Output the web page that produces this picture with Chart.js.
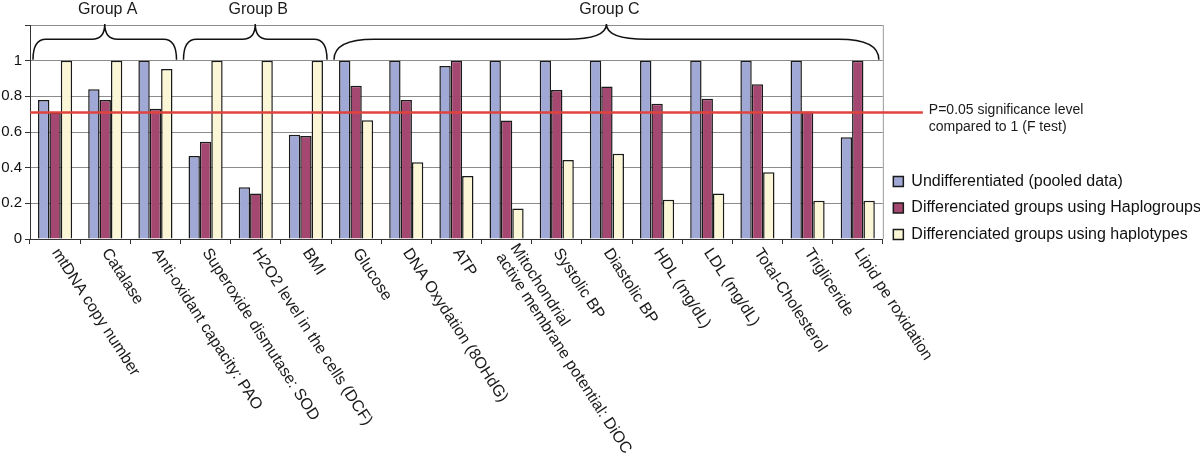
<!DOCTYPE html>
<html>
<head>
<meta charset="utf-8">
<script src="https://cdn.jsdelivr.net/npm/chart.js@4.4.1/dist/chart.umd.min.js"></script>
<style>
  html, body { margin: 0; padding: 0; background: #fff; }
</style>
</head>
<body>
<canvas id="chart" width="1200" height="458"></canvas>
<script>
  const categories = [
    'mtDNA copy number', 'Catalase', 'Anti-oxidant capacity: PAO',
    'Superoxide dismutase: SOD', 'H2O2 level in the cells (DCF)', 'BMI',
    'Glucose', 'DNA Oxydation (8OHdG)', 'ATP',
    ['Mitochondrial', 'active membrane potential: DiOC'],
    'Systolic BP', 'Diastolic BP', 'HDL (mg/dL)', 'LDL (mg/dL)',
    'Total-Cholesterol', 'Trigliceride', 'Lipid pe roxidation'
  ];
  const seriesNames = [
    'Undifferentiated (pooled data)',
    'Differenciated groups using Haplogroups',
    'Differenciated groups using haplotypes'
  ];
  const pooled      = [0.78, 0.84, 1.00, 0.465, 0.29, 0.585, 1.00, 1.00, 0.97, 1.00, 1.00, 1.00, 1.00, 1.00, 1.00, 1.00, 0.57];
  const haplogroups = [0.71, 0.78, 0.73, 0.545, 0.255, 0.578, 0.86, 0.78, 1.00, 0.665, 0.835, 0.855, 0.758, 0.786, 0.868, 0.715, 1.00];
  const haplotypes  = [1.00, 1.00, 0.953, 1.00, 1.00, 1.00, 0.666, 0.43, 0.353, 0.171, 0.443, 0.478, 0.22, 0.255, 0.374, 0.214, 0.214];
  const yTickLabels = ['0', '0.2', '0.4', '0.6', '0.8', '1'];
  const groupNames = ['Group A', 'Group B', 'Group C'];
  const groupFrom = [0, 3, 6];
  const groupTo = [2, 5, 16];
  const sigLevel = 0.71;
  const sigText = ['P=0.05 significance level', 'compared to 1 (F test)'];

  const FONT = '"Liberation Sans", Arial, sans-serif';
  Chart.defaults.font.family = FONT;
  Chart.defaults.color = '#111';

  function drawBrace(ctx, x0, x1, yEnd, yMid, yTip) {
    const xm = (x0 + x1) / 2;
    const r = Math.min(40, (x1 - x0) * 0.09);
    ctx.beginPath();
    ctx.moveTo(x0, yEnd);
    ctx.quadraticCurveTo(x0, yMid, x0 + r, yMid);
    ctx.lineTo(xm - r, yMid);
    ctx.quadraticCurveTo(xm, yMid, xm, yTip);
    ctx.quadraticCurveTo(xm, yMid, xm + r, yMid);
    ctx.lineTo(x1 - r, yMid);
    ctx.quadraticCurveTo(x1, yMid, x1, yEnd);
    ctx.stroke();
  }

  const overlay = {
    id: 'overlay',
    beforeDraw(chart) {
      // legend rows sit lower in the original, close to the x axis
      if (chart.legend && !chart.legend._shifted) {
        chart.legend.top += 9;
        chart.legend.bottom += 9;
        chart.legend._shifted = true;
      }
    },
    beforeDatasetsDraw(chart) {
      const { ctx, chartArea: a } = chart;
      ctx.save();
      ctx.strokeStyle = '#9a9a9a';
      ctx.lineWidth = 1;
      ctx.beginPath();
      ctx.moveTo(a.right + 0.5, a.top);
      ctx.lineTo(a.right + 0.5, a.bottom);
      ctx.stroke();
      ctx.restore();
    },
    afterDatasetsDraw(chart) {
      const { ctx, chartArea: a, scales: { x, y } } = chart;
      ctx.save();

      // significance line + note
      const ys = y.getPixelForValue(sigLevel);
      ctx.strokeStyle = '#e0433d';
      ctx.lineWidth = 2.5;
      ctx.beginPath();
      ctx.moveTo(a.left, ys);
      ctx.lineTo(a.right + 40, ys);
      ctx.stroke();
      ctx.fillStyle = '#1a1a1a';
      ctx.font = '14px ' + FONT;
      ctx.textAlign = 'left';
      ctx.textBaseline = 'middle';
      sigText.forEach((t, i) => ctx.fillText(t, a.right + 46, ys - 2 + i * 16.5));

      // group braces
      ctx.strokeStyle = '#111';
      ctx.lineWidth = 1.5;
      ctx.font = '16px ' + FONT;
      ctx.textAlign = 'center';
      groupNames.forEach((name, g) => {
        const x0 = x.getPixelForValue(groupFrom[g] - 0.5) + 3;
        const x1 = x.getPixelForValue(groupTo[g] + 0.5) - 4;
        drawBrace(ctx, x0, x1, y.getPixelForValue(1) - 1, y.getPixelForValue(1.12), y.getPixelForValue(1.2) - 1);
        ctx.fillText(name, (x0 + x1) / 2 + 3, a.top - 15);
      });

      // slanted category labels
      ctx.font = '16px ' + FONT;
      ctx.textAlign = 'left';
      ctx.textBaseline = 'middle';
      const rot = 57 * Math.PI / 180;
      categories.forEach((c, i) => {
        const lines = Array.isArray(c) ? c : [c];
        ctx.save();
        ctx.translate(x.getPixelForValue(i), a.bottom + 11);
        ctx.rotate(rot);
        lines.forEach((t, k) => ctx.fillText(t, 0, (k - (lines.length - 1) / 2) * 17));
        ctx.restore();
      });
      ctx.restore();
    }
  };

  const colors = ['#a0a8d6', '#a44872', '#faf6d6'];
  const values = [pooled, haplogroups, haplotypes];

  new Chart(document.getElementById('chart'), {
    type: 'bar',
    data: {
      labels: categories,
      datasets: seriesNames.map((name, i) => ({
        label: name,
        data: values[i],
        backgroundColor: colors[i],
        borderColor: '#1a1a1a',
        borderWidth: 1.5,
        barPercentage: 1,
        categoryPercentage: 0.68
      }))
    },
    options: {
      responsive: false,
      animation: false,
      devicePixelRatio: 1,
      layout: { padding: { top: 25, bottom: 214, left: 0, right: -11 } },
      scales: {
        x: {
          offset: true,
          ticks: { display: false },
          grid: { offset: true, drawOnChartArea: false, drawTicks: true, tickLength: 5, color: '#333' },
          border: { color: '#333', width: 1 }
        },
        y: {
          min: 0,
          max: 1.2,
          ticks: {
            stepSize: 0.2,
            padding: 3,
            font: { size: 15 },
            color: '#111',
            callback: (v, i) => yTickLabels[i] ?? ''
          },
          grid: { color: '#8c8c8c', tickColor: '#333', tickLength: 5, lineWidth: 1 },
          border: { color: '#333', width: 1 },
          afterFit(s) { s.width = 30; }
        }
      },
      plugins: {
        legend: {
          position: 'right',
          align: 'end',
          maxWidth: 340,
          labels: { boxWidth: 10, boxHeight: 10, padding: 10.5, color: '#111', font: { size: 16 } }
        },
        tooltip: { enabled: false }
      }
    },
    plugins: [overlay]
  });
</script>
</body>
</html>
